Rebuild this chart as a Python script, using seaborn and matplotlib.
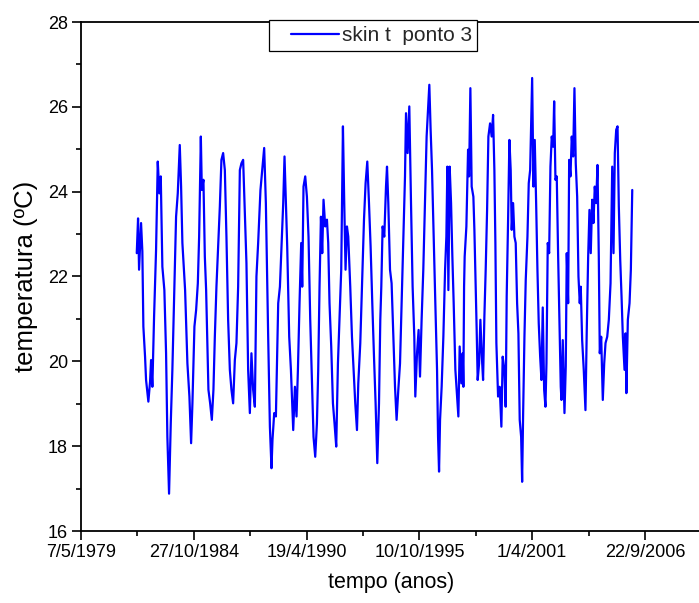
import numpy as np
import pandas as pd
import matplotlib
matplotlib.use("Agg")
import matplotlib.pyplot as plt
import matplotlib.dates as mdates
from matplotlib.lines import Line2D
from matplotlib.legend_handler import HandlerLine2D
from matplotlib.ticker import FuncFormatter, FixedLocator, MultipleLocator
import seaborn as sns

# Skin temperature at point 3: sample time (decimal year) and value (ºC)
decimal_year = [
    1982.051, 1982.114, 1982.163, 1982.260, 1982.323, 1982.372, 1982.454, 1982.503,
    1982.615, 1982.697, 1982.746, 1982.809, 1982.892, 1982.989,
    1983.071, 1983.149, 1983.217, 1983.295, 1983.392, 1983.475, 1983.538, 1983.620,
    1983.703, 1983.781, 1983.878, 1983.961,
    1984.043, 1984.140, 1984.204, 1984.267, 1984.398, 1984.510, 1984.607, 1984.689,
    1984.753, 1984.850, 1984.932,
    1985.015, 1985.078, 1985.161, 1985.209, 1985.287, 1985.355, 1985.418, 1985.530,
    1985.613, 1985.695, 1985.773, 1985.841, 1985.919,
    1986.001, 1986.084, 1986.161, 1986.244, 1986.327, 1986.405, 1986.487, 1986.570,
    1986.648, 1986.730, 1986.813, 1986.891, 1986.973,
    1987.056, 1987.134, 1987.216, 1987.299, 1987.377, 1987.459, 1987.542, 1987.619,
    1987.702, 1987.785, 1987.862, 1987.945,
    1988.057, 1988.154, 1988.237, 1988.319, 1988.382, 1988.431, 1988.514, 1988.591,
    1988.640, 1988.723, 1988.805, 1988.917,
    1989.000, 1989.077, 1989.160, 1989.223, 1989.291, 1989.354, 1989.451, 1989.534,
    1989.646, 1989.728, 1989.806, 1989.874, 1989.952,
    1990.034, 1990.083, 1990.146, 1990.229, 1990.311, 1990.389, 1990.472, 1990.554,
    1990.632, 1990.715, 1990.797, 1990.860, 1990.924, 1990.992,
    1991.055, 1991.118, 1991.201, 1991.284, 1991.346, 1991.409, 1991.492, 1991.575,
    1991.652, 1991.735, 1991.818, 1991.895, 1991.978,
    1992.061, 1992.124, 1992.187, 1992.255, 1992.318, 1992.415, 1992.498, 1992.576,
    1992.658, 1992.741, 1992.804, 1992.901, 1992.984,
    1993.081, 1993.159, 1993.241, 1993.324, 1993.402, 1993.484, 1993.567, 1993.645,
    1993.727, 1993.810, 1993.873, 1993.922, 1993.985,
    1994.067, 1994.150, 1994.199, 1994.262, 1994.345, 1994.422, 1994.505, 1994.588,
    1994.665, 1994.748, 1994.831, 1994.908, 1994.991,
    1995.073, 1995.122, 1995.200, 1995.282, 1995.365, 1995.443, 1995.525, 1995.574,
    1995.657, 1995.734, 1995.802, 1995.880, 1995.962,
    1996.045, 1996.123, 1996.191, 1996.254, 1996.317, 1996.385, 1996.463, 1996.545,
    1996.628, 1996.677, 1996.725, 1996.774, 1996.851, 1996.934,
    1997.017, 1997.080, 1997.128, 1997.177, 1997.240, 1997.308, 1997.371, 1997.435,
    1997.517, 1997.600, 1997.663, 1997.726, 1997.809, 1997.872, 1997.906, 1997.940,
    1997.969,
    1998.052, 1998.134, 1998.183, 1998.246, 1998.309, 1998.392, 1998.441, 1998.504,
    1998.552, 1998.601, 1998.669, 1998.732, 1998.795, 1998.863, 1998.926, 1998.990,
    1999.058, 1999.121, 1999.203, 1999.281, 1999.349, 1999.412, 1999.461, 1999.509,
    1999.592, 1999.670, 1999.752, 1999.815, 1999.898, 1999.961,
    2000.010, 2000.078, 2000.141, 2000.204, 2000.253, 2000.321, 2000.384, 2000.447,
    2000.515, 2000.578, 2000.641, 2000.710, 2000.758, 2000.807, 2000.870, 2000.933,
    2001.016, 2001.079, 2001.147, 2001.196, 2001.244, 2001.307, 2001.370, 2001.438,
    2001.501, 2001.564, 2001.633, 2001.696, 2001.759, 2001.827, 2001.890, 2001.939,
    2002.002, 2002.070, 2002.133, 2002.196, 2002.264, 2002.313, 2002.376, 2002.439,
    2002.507, 2002.571, 2002.634, 2002.668, 2002.731, 2002.814, 2002.877, 2002.925,
    2002.993,
    2003.042, 2003.105, 2003.168, 2003.236, 2003.299, 2003.362, 2003.431, 2003.494,
    2003.557, 2003.605, 2003.673, 2003.751, 2003.834, 2003.897, 2003.965,
    2004.028, 2004.091, 2004.159, 2004.222, 2004.285, 2004.353, 2004.417, 2004.480,
    2004.528, 2004.596, 2004.674, 2004.742, 2004.806, 2004.888, 2004.966,
    2005.049, 2005.131, 2005.194, 2005.257, 2005.325, 2005.389, 2005.452, 2005.520,
    2005.584, 2005.647, 2005.729, 2005.778, 2005.818, 2005.890, 2005.972,
    2006.036, 2006.104,
]

skin_temp = [
    22.55, 23.37, 22.16, 23.26, 22.59, 20.82, 20.11, 19.56,
    19.05, 19.52, 20.03, 19.40, 21.05, 22.63,
    24.71, 23.96, 24.36, 22.23, 21.68, 20.19, 18.22, 16.88,
    18.54, 19.80, 21.76, 23.41,
    23.96, 25.10, 24.12, 22.79, 21.68, 19.95, 19.17, 18.07,
    19.01, 20.82, 21.21,
    21.84, 22.94, 25.30, 24.04, 24.28, 22.47, 21.68, 19.33,
    19.01, 18.62, 19.33, 20.58, 21.76,
    22.71, 23.65, 24.75, 24.91, 24.51, 22.94, 20.98, 19.80,
    19.33, 19.01, 20.03, 20.43, 21.76,
    24.51, 24.67, 24.75, 23.49, 22.31, 19.80, 18.78, 20.19,
    19.33, 18.93, 22.00, 22.79,
    24.04, 24.59, 25.03, 23.73, 21.92, 20.58, 18.46, 17.48,
    18.15, 18.78, 18.70, 21.37,
    21.76, 22.71, 23.73, 24.83, 23.73, 22.71, 20.58, 19.80,
    18.38, 19.40, 18.70, 19.80, 21.37,
    22.79, 21.76, 24.12, 24.36, 23.88, 22.94, 20.98, 19.56,
    18.22, 17.75, 18.54, 19.80, 21.76, 23.41,
    22.55, 23.81, 23.18, 23.34, 22.79, 21.37, 20.35, 19.01,
    18.54, 17.99, 19.95, 20.98, 22.16,
    25.54, 23.73, 22.16, 23.18, 22.94, 21.76, 20.58, 19.80,
    19.01, 18.38, 19.48, 20.43, 21.76,
    23.34, 24.20, 24.71, 23.73, 22.71, 21.37, 20.11, 19.01,
    17.60, 19.01, 20.98, 21.76, 23.18,
    22.94, 24.12, 24.59, 23.73, 22.16, 21.84, 20.58, 19.40,
    18.62, 19.33, 19.95, 21.37, 22.94,
    24.36, 25.85, 24.91, 26.01, 23.73, 21.76, 20.58, 19.17,
    20.19, 20.74, 19.64, 20.98, 22.16,
    23.73, 25.30, 25.93, 26.52, 25.46, 24.51, 22.94, 21.37,
    19.80, 18.22, 17.40, 18.62, 19.40, 20.58,
    22.16, 22.94, 24.59, 21.68, 24.59, 23.73, 22.47, 21.37,
    19.80, 19.17, 18.70, 20.35, 19.48, 20.19, 19.40, 21.76,
    22.47,
    23.18, 24.99, 24.36, 26.44, 24.12, 23.88, 23.10, 21.76,
    20.74, 19.56, 19.95, 20.98, 20.19, 19.56, 21.05, 22.16,
    23.57, 25.30, 25.61, 25.30, 25.81, 24.51, 22.79, 20.43,
    19.17, 19.40, 18.46, 20.11, 19.80, 18.93,
    21.53, 23.34, 25.22, 24.51, 23.10, 23.73, 22.94, 22.79,
    21.37, 20.66, 18.62, 18.22, 17.16, 18.78, 20.58, 21.92,
    22.94, 24.20, 24.51, 25.61, 26.68, 24.12, 25.22, 23.73,
    22.16, 20.90, 20.11, 19.56, 21.27, 19.33, 18.93, 19.95,
    22.79, 22.55, 24.59, 25.30, 25.06, 26.13, 24.28, 24.36,
    22.47, 20.98, 19.40, 19.09, 20.50, 18.78, 19.88, 22.55,
    21.37,
    24.75, 24.36, 25.30, 24.83, 26.44, 24.67, 23.88, 22.00,
    21.37, 21.76, 20.50, 19.80, 18.85, 20.74, 22.47,
    23.57, 22.55, 23.81, 23.26, 24.12, 23.73, 24.63, 22.47,
    20.19, 20.58, 19.09, 19.95, 20.43, 20.58, 20.98,
    21.84, 24.59, 22.55, 24.91, 25.46, 25.54, 23.65, 22.39,
    21.53, 20.58, 19.80, 20.66, 19.25, 20.98, 21.37,
    22.16, 24.04,
]

tick_dates = ["1979-05-07", "1984-10-27", "1990-04-19",
              "1995-10-10", "2001-04-01", "2006-09-22"]
series_label = "skin t  ponto 3"
x_label = "tempo (anos)"
y_label = "temperatura (ºC)"


def year_to_timestamp(value):
    year = int(np.floor(value))
    start = pd.Timestamp(year=year, month=1, day=1)
    days_in_year = (pd.Timestamp(year=year + 1, month=1, day=1) - start).days
    return start + pd.Timedelta(days=(value - year) * days_in_year)


df = pd.DataFrame({
    "tempo": [year_to_timestamp(v) for v in decimal_year],
    "temperatura": skin_temp,
})

sns.set_theme(style="white")
plt.rcParams["font.family"] = ["Liberation Sans", "DejaVu Sans"]
plt.rcParams["axes.edgecolor"] = "black"

W, H = 699, 603
fig = plt.figure(figsize=(W / 100, H / 100), dpi=100)
fig.patch.set_facecolor("white")
ax = fig.add_axes([81 / W, (H - 531) / H, 620.4 / W, (531 - 22) / H])

sns.lineplot(data=df, x="tempo", y="temperatura", color="#0000FF",
             linewidth=1.6, label=series_label, ax=ax)

# x axis: dates every 2000 days, minor tick halfway between
x0 = pd.Timestamp(tick_dates[0])
ax.set_xlim(mdates.date2num(x0), mdates.date2num(x0 + pd.Timedelta(days=11000)))
major = [mdates.date2num(pd.Timestamp(d)) for d in tick_dates]
minor = [m + 1000 for m in major]
ax.xaxis.set_major_locator(FixedLocator(major))
ax.xaxis.set_minor_locator(FixedLocator(minor))


def date_label(v, pos):
    d = mdates.num2date(v)
    return f"{d.day}/{d.month}/{d.year}"


ax.xaxis.set_major_formatter(FuncFormatter(date_label))

ax.set_ylim(16, 28)
ax.yaxis.set_major_locator(MultipleLocator(2))
ax.yaxis.set_minor_locator(MultipleLocator(1))

for side in ["left", "bottom", "top", "right"]:
    ax.spines[side].set_visible(True)
    ax.spines[side].set_color("black")
    ax.spines[side].set_linewidth(1.3)

ax.tick_params(which="both", direction="out", bottom=True, left=True,
               top=False, right=False, colors="black")
ax.tick_params(which="major", length=6.5, width=1.2, labelsize=13, pad=3)
ax.tick_params(which="minor", length=3.5, width=1.2)

ax.set_xlabel(x_label, fontsize=15.5, labelpad=8, color="black")
ax.set_ylabel(y_label, fontsize=18.5, labelpad=7, color="black")


class InsetLine(HandlerLine2D):
    def create_artists(self, legend, orig_handle, xdescent, ydescent,
                       width, height, fontsize, trans):
        artists = super().create_artists(legend, orig_handle, xdescent, ydescent,
                                         width, height, fontsize, trans)
        for a in artists:
            xs = np.asarray(a.get_xdata(), dtype=float)
            if len(xs) >= 2:
                a.set_xdata(np.linspace(xs[0] + 0.25 * width, xs[-1], len(xs)))
        return artists


leg = ax.legend(loc="upper left", bbox_to_anchor=(269 / W, 1 - 20 / H),
                bbox_transform=fig.transFigure, fontsize=15, frameon=True,
                fancybox=False, edgecolor="black", framealpha=1,
                handlelength=3.1, handletextpad=0.1, borderpad=0.28,
                borderaxespad=0, handler_map={Line2D: InsetLine()})
leg.get_frame().set_linewidth(0.9)

fig.savefig("out.png", dpi=100, facecolor="white")
